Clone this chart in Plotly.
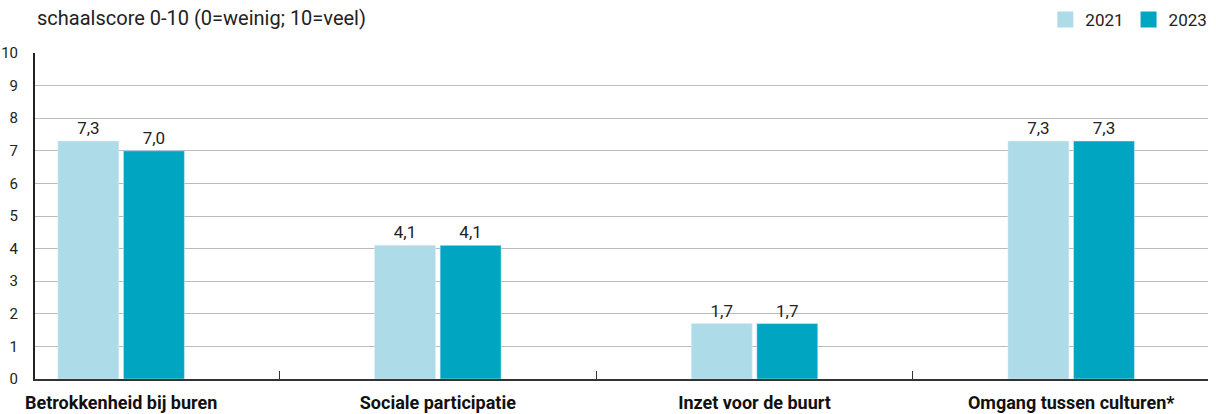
import plotly.graph_objects as go

categories = ["Betrokkenheid bij buren", "Sociale participatie", "Inzet voor de buurt", "Omgang tussen culturen*"]
values_2021 = [7.3, 4.1, 1.7, 7.3]
values_2023 = [7.0, 4.1, 1.7, 7.3]
series_names = ["2021", "2023"]
y_title = "schaalscore 0-10 (0=weinig; 10=veel)"

colors = ["#ADDBE7", "#00A6C1"]
font_family = "Roboto, 'Noto Sans', sans-serif"

def fmt(v):
    return f"{v:.1f}".replace(".", ",")

fig = go.Figure()
for name, vals, col in zip(series_names, [values_2021, values_2023], colors):
    fig.add_trace(go.Bar(
        x=categories, y=vals, name=name, marker_color=col,
        text=[fmt(v) for v in vals], textposition="outside",
        textfont=dict(size=17, color="#222222", family=font_family),
        cliponaxis=False, showlegend=False, legendgroup=name,
    ))
# legend entries with larger square symbols
for name, col in zip(series_names, colors):
    fig.add_trace(go.Scatter(
        x=[None], y=[None], mode="markers", name=name, legendgroup=name,
        marker=dict(symbol="square", size=16, color=col),
    ))

fig.update_layout(
    width=1216, height=414,
    margin=dict(l=35, r=8, t=53, b=35, autoexpand=False),
    plot_bgcolor="white", paper_bgcolor="white",
    barmode="group", bargap=0.586, bargroupgap=0.07,
    font=dict(family=font_family, color="#222222", size=15),
    legend=dict(orientation="h", xref="container", x=0.997, xanchor="right",
                yref="container", y=0.995, yanchor="top", itemwidth=30,
                font=dict(size=17), traceorder="normal"),
    showlegend=True,
    annotations=[dict(text=y_title, xref="paper", yref="paper", x=0, y=1.107,
                      xanchor="left", yanchor="middle", showarrow=False,
                      font=dict(size=20, color="#222222"))],
)
fig.update_xaxes(
    automargin=False, range=[-0.272, 3.432],
    showline=True, linecolor="#333333", linewidth=2,
    ticks="inside", tickson="boundaries", ticklen=8, tickcolor="#333333",
    tickfont=dict(size=18, color="#111111", family=font_family, weight="bold"),
    ticklabelstandoff=6,
    showgrid=False,
)
fig.update_yaxes(
    automargin=False,
    range=[0, 10], dtick=1, showgrid=True, gridcolor="#BBBBBB", gridwidth=1,
    showline=True, linecolor="#222222", linewidth=2,
    ticks="", tickfont=dict(size=15, color="#222222"), ticklabelstandoff=12,
    zeroline=False,
)
fig.write_html("out.html", config={"displayModeBar": False},
               post_script="document.body.style.margin='0';document.body.style.overflow='hidden';")
